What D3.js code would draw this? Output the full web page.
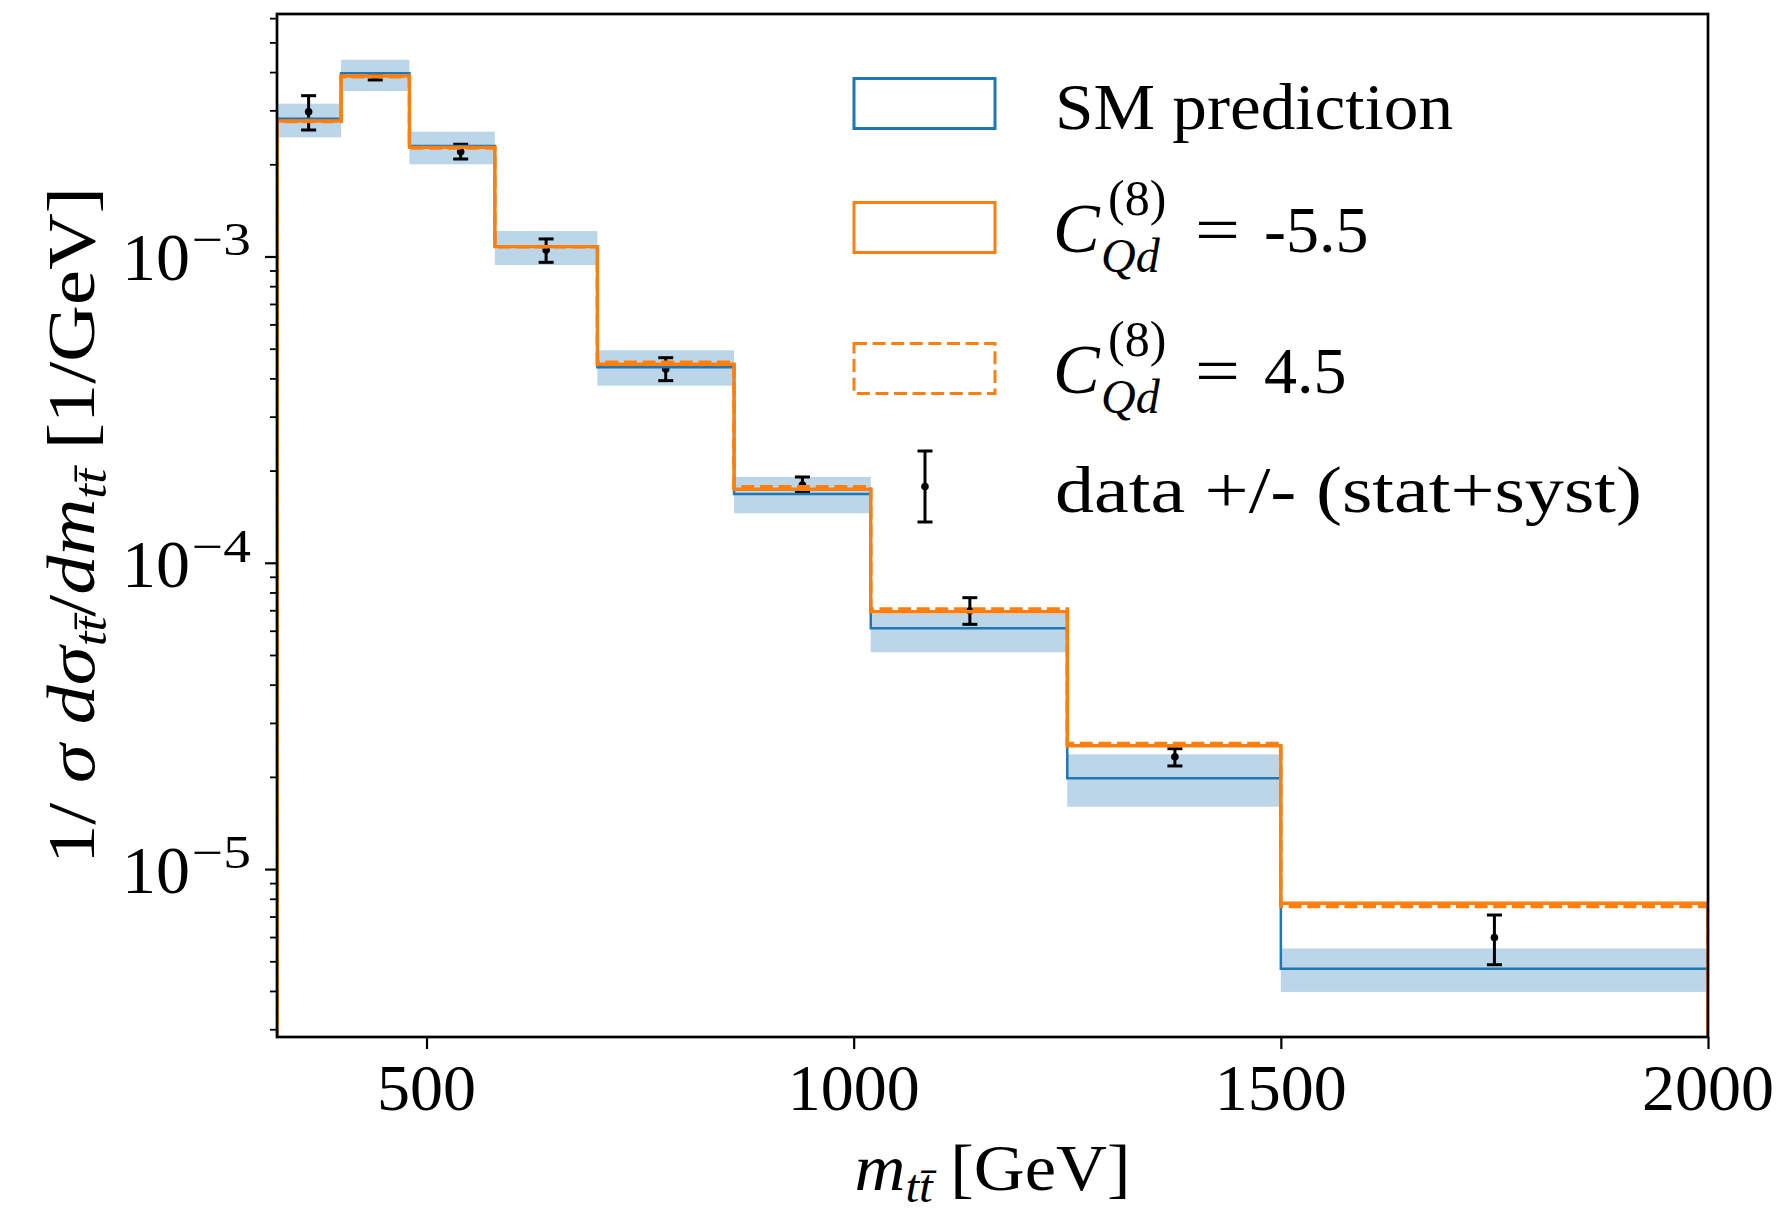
<!DOCTYPE html>
<html>
<head>
<meta charset="utf-8">
<script src="https://cdn.jsdelivr.net/npm/d3@7"></script>
<style>
  body { margin: 0; background: #fff; }
  svg { display: block; font-family: "Liberation Serif", "DejaVu Serif", serif; }
</style>
</head>
<body>
<div id="chart"></div>
<script>
// m_tt bin edges [GeV]
const binEdges = [325, 400, 480, 580, 700, 860, 1020, 1250, 1500, 2000];

// SM prediction and its uncertainty band
const smPrediction = [2.818e-3, 3.963e-3, 2.295e-3, 1.080e-3, 4.348e-4, 1.677e-4, 6.109e-5, 1.978e-5, 4.725e-6];
const smLow  = [2.449e-3, 3.470e-3, 2.000e-3, 9.38e-4, 3.787e-4, 1.451e-4, 5.103e-5, 1.598e-5, 3.971e-6];
const smHigh = [3.154e-3, 4.390e-3, 2.556e-3, 1.211e-3, 4.940e-4, 1.906e-4, 6.804e-5, 2.369e-5, 5.506e-6];

// EFT predictions
const cqdMinus55 = [2.770e-3, 3.884e-3, 2.272e-3, 1.077e-3, 4.446e-4, 1.738e-4, 6.922e-5, 2.528e-5, 7.733e-6];
const cqdPlus45  = [2.760e-3, 3.860e-3, 2.260e-3, 1.075e-3, 4.514e-4, 1.771e-4, 7.065e-5, 2.570e-5, 7.540e-6];

// measured points
const dataX  = [362, 440, 540, 640, 780, 940, 1136, 1376, 1750];
const dataY  = [2.970e-3, 3.864e-3, 2.198e-3, 1.050e-3, 4.292e-4, 1.794e-4, 6.975e-5, 2.328e-5, 5.978e-6];
const dataHi = [3.350e-3, 3.934e-3, 2.325e-3, 1.141e-3, 4.673e-4, 1.906e-4, 7.693e-5, 2.472e-5, 7.080e-6];
const dataLo = [2.588e-3, 3.770e-3, 2.081e-3, 9.57e-4, 3.932e-4, 1.699e-4, 6.296e-5, 2.171e-5, 4.873e-6];

// ticks
const xTickValues = [500, 1000, 1500, 2000];
const xTickLabels = ['500', '1000', '1500', '2000'];
const yTickValues = [1e-3, 1e-4, 1e-5];
const yTickExponents = ['\u22123', '\u22124', '\u22125'];

const width = 1784, height = 1211,
    plot = { left: 277, right: 1708, top: 14, bottom: 1037 },
    blue = '#1f77b4',
    orange = '#ff7f0e',
    fontSize = 66,
    smallFont = 46,
    errWidth = 3;

const x = d3.scaleLinear().domain([325, 2000]).range([plot.left, plot.right]);
const y = d3.scaleLog().domain([2.83e-6, 6.19e-3]).range([plot.bottom, plot.top]);

const svg = d3.select('#chart').append('svg')
    .attr('width', width)
    .attr('height', height);

svg.append('rect').attr('width', width).attr('height', height).attr('fill', '#fff');

svg.append('clipPath').attr('id', 'clip')
    .append('rect')
    .attr('x', plot.left).attr('y', plot.top)
    .attr('width', plot.right - plot.left)
    .attr('height', plot.bottom - plot.top);

const g = svg.append('g').attr('clip-path', 'url(#clip)');

// uncertainty band of SM
g.selectAll('.band')
    .data(smPrediction)
    .enter().append('rect')
    .attr('x', (d, i) => x(binEdges[i]))
    .attr('width', (d, i) => x(binEdges[i + 1]) - x(binEdges[i]))
    .attr('y', (d, i) => y(smHigh[i]))
    .attr('height', (d, i) => y(smLow[i]) - y(smHigh[i]))
    .attr('fill', blue)
    .attr('fill-opacity', 0.3);

// histogram step outline, dropping to the floor at both ends
function stepPoints(values) {
    const floor = 1e-8;
    const pts = [[binEdges[0], floor]];
    values.forEach((v, i) => pts.push([binEdges[i], v]));
    pts.push([binEdges[values.length], values[values.length - 1]]);
    pts.push([binEdges[values.length], floor]);
    return pts;
}

const step = d3.line()
    .x(d => x(d[0]))
    .y(d => y(d[1]))
    .curve(d3.curveStepAfter);

// data error bars
const bars = g.append('g').attr('stroke', '#000').attr('stroke-width', errWidth);
bars.selectAll('.err')
    .data(dataX)
    .enter().append('line')
    .attr('x1', d => x(d)).attr('x2', d => x(d))
    .attr('y1', (d, i) => y(dataHi[i]))
    .attr('y2', (d, i) => y(dataLo[i]));
[dataHi, dataLo].forEach(arr => {
    bars.selectAll(null)
        .data(dataX)
        .enter().append('line')
        .attr('x1', d => x(d) - 7.5).attr('x2', d => x(d) + 7.5)
        .attr('y1', (d, i) => y(arr[i]))
        .attr('y2', (d, i) => y(arr[i]));
});
bars.selectAll('circle')
    .data(dataX)
    .enter().append('circle')
    .attr('cx', d => x(d))
    .attr('cy', (d, i) => y(dataY[i]))
    .attr('r', 3.8)
    .attr('fill', '#000')
    .attr('stroke', 'none');

g.append('path')
    .attr('d', step(stepPoints(smPrediction)))
    .attr('fill', 'none')
    .attr('stroke', blue)
    .attr('stroke-width', 2.5);

g.append('path')
    .attr('d', step(stepPoints(cqdMinus55)))
    .attr('fill', 'none')
    .attr('stroke', orange)
    .attr('stroke-width', 3.4);

g.append('path')
    .attr('d', step(stepPoints(cqdPlus45)))
    .attr('fill', 'none')
    .attr('stroke', orange)
    .attr('stroke-width', 3.4)
    .attr('stroke-dasharray', '13 5.6');

// axes
function styleAxis(sel) {
    sel.select('.domain').remove();
    sel.selectAll('.tick line').attr('stroke', '#000');
}

svg.append('g')
    .attr('transform', `translate(0,${plot.bottom})`)
    .call(d3.axisBottom(x).tickValues(xTickValues).tickSize(12).tickFormat(''))
    .call(styleAxis)
    .selectAll('.tick line').attr('stroke-width', 2.2);

svg.append('g')
    .attr('transform', `translate(${plot.left},0)`)
    .call(d3.axisLeft(y).tickValues(yTickValues).tickSize(12).tickFormat(''))
    .call(styleAxis)
    .selectAll('.tick line').attr('stroke-width', 2.2);

const minorTicks = y.ticks().filter(v => Math.abs(Math.log10(v) - Math.round(Math.log10(v))) > 1e-6);
svg.append('g')
    .attr('transform', `translate(${plot.left},0)`)
    .call(d3.axisLeft(y).tickValues(minorTicks).tickSize(7).tickFormat(''))
    .call(styleAxis)
    .selectAll('.tick line').attr('stroke-width', 1.8);

svg.append('rect')
    .attr('x', plot.left).attr('y', plot.top)
    .attr('width', plot.right - plot.left)
    .attr('height', plot.bottom - plot.top)
    .attr('fill', 'none')
    .attr('stroke', '#000')
    .attr('stroke-width', 2.7);

// tick labels
svg.selectAll('.xlab')
    .data(xTickValues)
    .enter().append('text')
    .attr('x', d => x(d))
    .attr('y', 1110)
    .attr('text-anchor', 'middle')
    .attr('font-size', fontSize)
    .text((d, i) => xTickLabels[i]);

svg.selectAll('.ylab')
    .data(yTickValues)
    .enter().append('text')
    .attr('x', 190)
    .attr('y', d => y(d) + 24)
    .attr('text-anchor', 'end')
    .attr('font-size', fontSize + 2)
    .text('10');

svg.selectAll('.yexp')
    .data(yTickValues)
    .enter().append('text')
    .attr('x', 192)
    .attr('y', d => y(d) - 1)
    .attr('font-size', smallFont)
    .attr('textLength', 59)
    .attr('lengthAdjust', 'spacingAndGlyphs')
    .text((d, i) => yTickExponents[i]);

// axis titles
const tbar = 't\u0304';
const xt = svg.append('text')
    .attr('x', (plot.left + plot.right) / 2)
    .attr('y', 1190)
    .attr('text-anchor', 'middle')
    .attr('font-size', fontSize)
    .attr('textLength', 276)
    .attr('lengthAdjust', 'spacingAndGlyphs');
xt.append('tspan').attr('font-style', 'italic').text('m');
xt.append('tspan').attr('font-style', 'italic').attr('font-size', smallFont).attr('dy', 12).text('t' + tbar);
xt.append('tspan').attr('dy', -12).text(' [GeV]');

const yt = svg.append('text')
    .attr('transform', `translate(94,${(plot.top + plot.bottom) / 2}) rotate(-90)`)
    .attr('text-anchor', 'middle')
    .attr('font-size', fontSize + 2)
    .attr('textLength', 677)
    .attr('lengthAdjust', 'spacingAndGlyphs');
yt.append('tspan').text('1/ ');
yt.append('tspan').attr('font-style', 'italic').text('\u03c3 d\u03c3');
yt.append('tspan').attr('font-style', 'italic').attr('font-size', smallFont).attr('dy', 12).text('t' + tbar);
yt.append('tspan').attr('dy', -12).text('/');
yt.append('tspan').attr('font-style', 'italic').text('dm');
yt.append('tspan').attr('font-style', 'italic').attr('font-size', smallFont).attr('dy', 12).text('t' + tbar);
yt.append('tspan').attr('dy', -12).text(' [1/GeV]');

// legend
const legend = svg.append('g');
const box = { x: 854, w: 141, h: 50 };

legend.append('rect').attr('x', box.x).attr('y', 78.5).attr('width', box.w).attr('height', box.h)
    .attr('fill', 'none').attr('stroke', blue).attr('stroke-width', 3);
legend.append('rect').attr('x', box.x).attr('y', 202.5).attr('width', box.w).attr('height', box.h)
    .attr('fill', 'none').attr('stroke', orange).attr('stroke-width', 3);
legend.append('rect').attr('x', box.x).attr('y', 343.5).attr('width', box.w).attr('height', box.h)
    .attr('fill', 'none').attr('stroke', orange).attr('stroke-width', 3)
    .attr('stroke-dasharray', '13 5.6');

const lx = 925;
legend.append('line').attr('x1', lx).attr('x2', lx).attr('y1', 451).attr('y2', 522)
    .attr('stroke', '#000').attr('stroke-width', errWidth);
[451, 522].forEach(yy => legend.append('line')
    .attr('x1', lx - 7.5).attr('x2', lx + 7.5).attr('y1', yy).attr('y2', yy)
    .attr('stroke', '#000').attr('stroke-width', errWidth));
legend.append('circle').attr('cx', lx).attr('cy', 486.5).attr('r', 3.8).attr('fill', '#000');

legend.append('text').attr('x', 1055).attr('y', 129).attr('font-size', fontSize)
    .attr('textLength', 398).attr('lengthAdjust', 'spacingAndGlyphs')
    .text('SM prediction');

function coefLabel(base, value) {
    legend.append('text').attr('x', 1053).attr('y', base).attr('font-size', fontSize + 4)
        .attr('font-style', 'italic').text('C');
    legend.append('text').attr('x', 1108).attr('y', base - 37).attr('font-size', smallFont + 4)
        .text('(8)');
    legend.append('text').attr('x', 1101).attr('y', base + 20).attr('font-size', smallFont + 2)
        .attr('font-style', 'italic').text('Qd');
    legend.append('text').attr('x', 1195).attr('y', base).attr('font-size', fontSize)
        .attr('textLength', 45).attr('lengthAdjust', 'spacingAndGlyphs').text('=');
    legend.append('text').attr('x', 1264).attr('y', base).attr('font-size', fontSize)
        .text(value);
}
coefLabel(252, '-5.5');
coefLabel(393, '4.5');

legend.append('text').attr('x', 1055).attr('y', 512).attr('font-size', fontSize)
    .attr('textLength', 587).attr('lengthAdjust', 'spacingAndGlyphs')
    .text('data +/- (stat+syst)');
</script>
</body>
</html>
